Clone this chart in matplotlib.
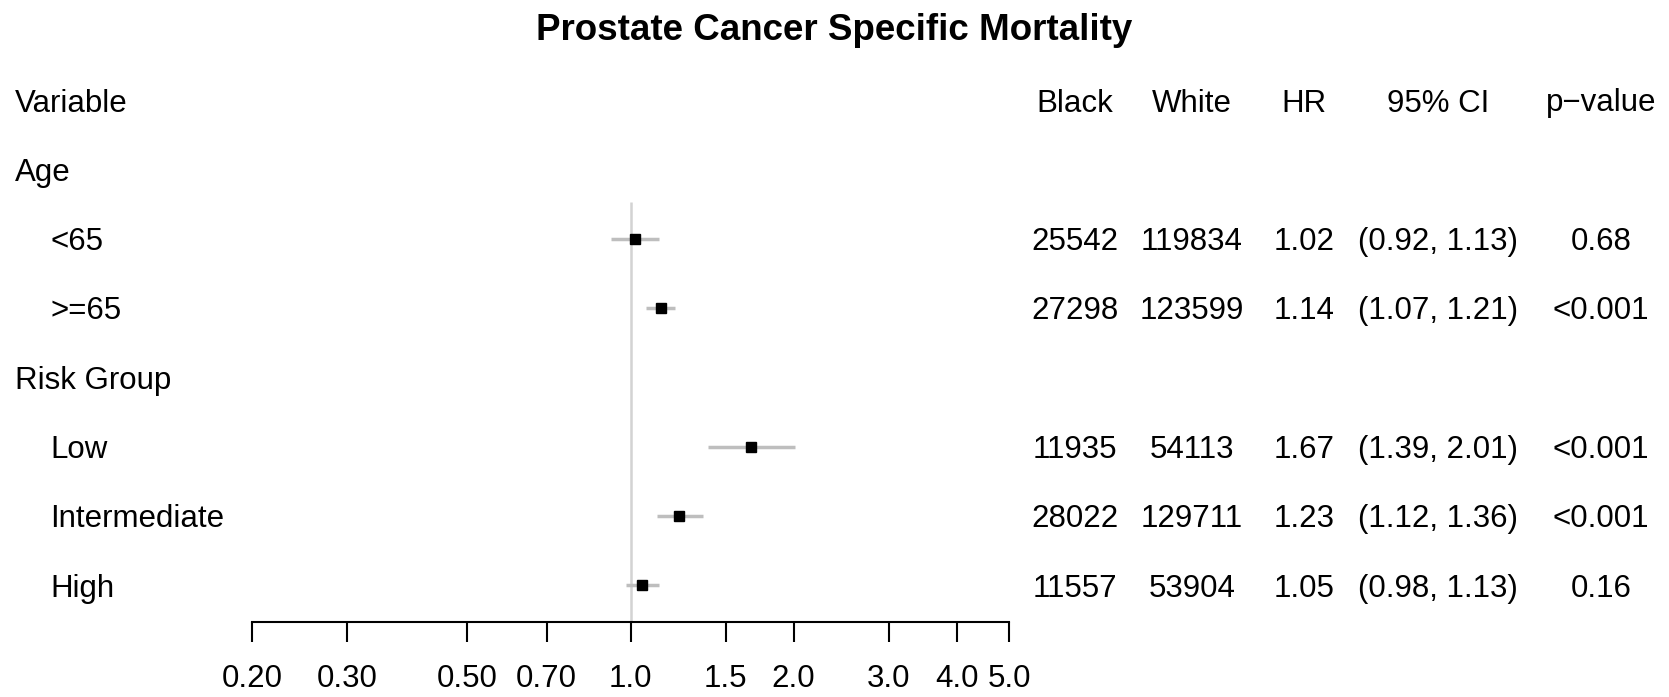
import matplotlib
matplotlib.use("Agg")
import matplotlib.pyplot as plt
import matplotlib.transforms as mtransforms

plt.rcParams['font.family'] = ['Liberation Sans', 'DejaVu Sans']

# data
labels = ["Variable", "Age", "<65", ">=65", "Risk Group", "Low", "Intermediate", "High"]
indent = [False, False, True, True, False, True, True, True]
black = ["", "", "25542", "27298", "", "11935", "28022", "11557"]
white = ["", "", "119834", "123599", "", "54113", "129711", "53904"]
hr_txt = ["", "", "1.02", "1.14", "", "1.67", "1.23", "1.05"]
ci_txt = ["", "", "(0.92, 1.13)", "(1.07, 1.21)", "", "(1.39, 2.01)", "(1.12, 1.36)", "(0.98, 1.13)"]
p_txt = ["", "", "0.68", "<0.001", "", "<0.001", "<0.001", "0.16"]
header = ["Black", "White", "HR", "95% CI", "p\u2212value"]

rows = [2, 3, 5, 6, 7]
hr = [1.02, 1.14, 1.67, 1.23, 1.05]
lo = [0.92, 1.07, 1.39, 1.12, 0.98]
hi = [1.13, 1.21, 2.01, 1.36, 1.13]
ticks = [0.2, 0.3, 0.5, 0.7, 1.0, 1.5, 2.0, 3.0, 4.0, 5.0]
tick_lab = ["0.20", "0.30", "0.50", "0.70", "1.0", "1.5", "2.0", "3.0", "4.0", "5.0"]

W, H = 1669, 697
fig = plt.figure(figsize=(W / 100, H / 100), dpi=100)

# forest axes: x 252..1009 px, y from row 0 (100px) to axis line (622px)
top_px, bot_px, step = 100, 622, 69.3
ax = fig.add_axes([252 / W, 1 - bot_px / H, 757 / W, (bot_px - top_px) / H])
ax.set_xscale('log')
ax.set_xlim(0.2, 5.0)
ax.set_ylim((bot_px - top_px) / step, 0)
ax.patch.set_alpha(0)

ax.vlines(1.0, 1.47, (bot_px - top_px) / step, color='#d3d3d3', lw=1.8, zorder=1)
ax.hlines(rows, lo, hi, color='#bebebe', lw=2.5, zorder=2)
ax.plot(hr, rows, 's', color='black', ms=7.5, zorder=3)

for s in ['top', 'right', 'left']:
    ax.spines[s].set_visible(False)
ax.spines['bottom'].set_linewidth(1.5)
ax.set_yticks([])
ax.set_xticks(ticks)
ax.set_xticks([], minor=True)
ax.set_xticklabels(tick_lab, fontsize=22.5)
ax.tick_params(axis='x', direction='out', length=14.5, width=1.5, pad=16)

# table text
tr = mtransforms.blended_transform_factory(fig.transFigure, ax.transData)
for i, lab in enumerate(labels):
    x = 50 if indent[i] else 15
    ax.text(x / W, i, lab, transform=tr, fontsize=22.5, ha='left', va='center_baseline', clip_on=False)

col_x = [1075, 1192, 1304, 1438, 1601]
cols = [black, white, hr_txt, ci_txt, p_txt]
for cx, h in zip(col_x, header):
    ax.text(cx / W, 0, h, transform=tr, fontsize=22.5, ha='center', va='center_baseline', clip_on=False)
for cx, col in zip(col_x, cols):
    for i, v in enumerate(col):
        if v:
            ax.text(cx / W, i, v, transform=tr, fontsize=22.5, ha='center', va='center_baseline', clip_on=False)

fig.text(0.5, 1 - 27 / H, "Prostate Cancer Specific Mortality", fontsize=26.5,
         fontweight='bold', ha='center', va='center_baseline')

fig.savefig("out.png", dpi=100)
